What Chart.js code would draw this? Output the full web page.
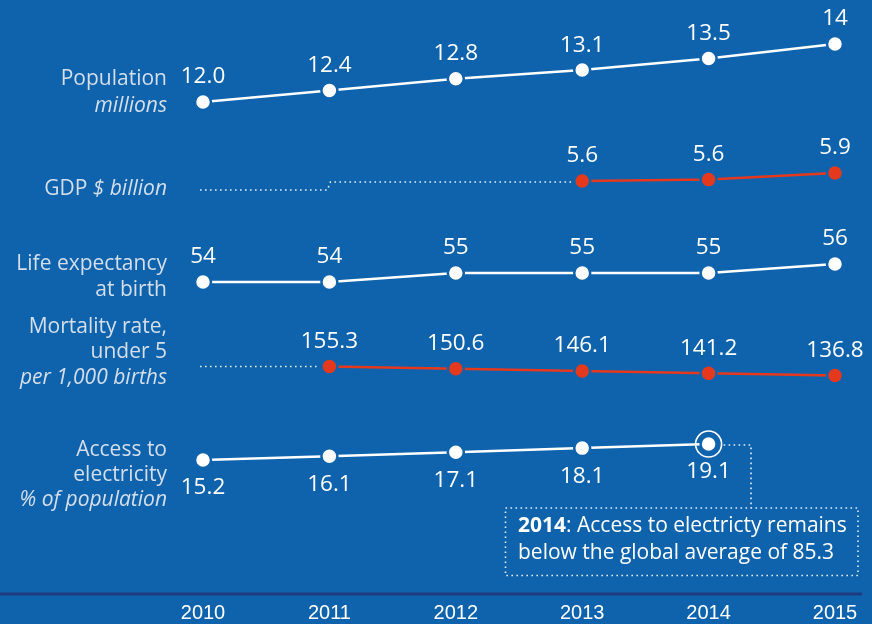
<!DOCTYPE html>
<html><head><meta charset="utf-8">
<script src="https://cdn.jsdelivr.net/npm/chart.js@4/dist/chart.umd.min.js"></script>
<style>html,body{margin:0;padding:0;background:#0F63AD;overflow:hidden}#wrap{width:872px;height:624px;position:relative}</style>
</head><body><div id="wrap"><canvas id="c"></canvas></div>
<script>
// ---- data ----
const years = ['2010', '2011', '2012', '2013', '2014', '2015'];
const population = [12.0, 12.4, 12.8, 13.1, 13.5, 14.0];
const populationLabels = ['12.0', '12.4', '12.8', '13.1', '13.5', '14'];
const gdp = [null, null, null, 5.57, 5.63, 5.92];
const lifeExpectancy = [54, 54, 55, 55, 55, 56];
const mortality = [null, 155.3, 150.6, 146.1, 141.2, 136.8];
const electricity = [15.2, 16.1, 17.1, 18.1, 19.1, null];
const rowTitles = [['Population'], ['GDP'], ['Life expectancy', 'at birth'], ['Mortality rate,', 'under 5'], ['Access to', 'electricity']];
const rowUnits = ['millions', '$ billion', '', 'per 1,000 births', '% of population'];
const noteYear = '2014';
const noteLines = [': Access to electricty remains', 'below the global average of 85.3'];

// ---- style ----
const BG = '#0F63AD';
const WHITE = '#FFFFFF';
const RED = '#E5391E';
const LABEL = '#D5DFEB';
const NAVY = '#1E3D7E';
const FONT = '"Open Sans", Lato, sans-serif';
const B = 593; // chart-area bottom (x axis height fixed to 31)

function band(v0, p0, k) { return { min: v0 - (B - p0) / k, max: v0 + p0 / k }; }
function fmt1(v) { return v == null ? '' : v.toFixed(1); }

function series(data, color, yAxisID, valueLabels, below, width) {
  return {
    data, yAxisID, valueLabels, labelBelow: below,
    borderColor: color, backgroundColor: color, borderWidth: width,
    pointRadius: 8, pointHoverRadius: 8, pointBorderWidth: 2.5,
    pointBackgroundColor: color, pointBorderColor: BG,
    tension: 0, clip: false, spanGaps: false
  };
}

const datasets = [
  series(population, WHITE, 'yPop', populationLabels, false, 2.5),
  series(gdp, RED, 'yGdp', gdp.map(fmt1), false, 2.5),
  series(lifeExpectancy, WHITE, 'yLife', lifeExpectancy.map(v => String(v)), false, 2.5),
  series(mortality, RED, 'yMort', mortality.map(fmt1), false, 2.5),
  series(electricity, WHITE, 'yElec', electricity.map(fmt1), true, 2.5)
];

const bgPlugin = {
  id: 'bg',
  beforeDraw(chart) {
    const ctx = chart.ctx;
    ctx.save();
    ctx.fillStyle = BG;
    ctx.fillRect(0, 0, chart.width, chart.height);
    ctx.fillStyle = NAVY;
    ctx.fillRect(0, chart.chartArea.bottom - 0.5, 862, 3);
    ctx.restore();
  }
};

function dotted(ctx, pts) {
  ctx.beginPath();
  ctx.moveTo(pts[0][0], pts[0][1]);
  for (let i = 1; i < pts.length; i++) ctx.lineTo(pts[i][0], pts[i][1]);
  ctx.stroke();
}

const decorPlugin = {
  id: 'decor',
  beforeDatasetsDraw(chart) {
    const ctx = chart.ctx;
    const xs = chart.scales.x;
    const x0 = xs.getPixelForValue(0), x1 = xs.getPixelForValue(1), x3 = xs.getPixelForValue(3);
    ctx.save();
    ctx.strokeStyle = 'rgba(255,255,255,0.9)';
    ctx.lineWidth = 1.6;
    ctx.setLineDash([1.6, 3.4]);
    // GDP missing data guide
    const g = chart.getDatasetMeta(1).data[3].y;
    dotted(ctx, [[x0 - 3, g + 9], [x1 - 2, g + 9], [x1 + 1, g + 1], [x3 - 10, g + 1]]);
    // Mortality missing data guide
    const m = chart.getDatasetMeta(3).data[1].y;
    dotted(ctx, [[x0 - 3, m], [x1 - 10, m]]);
    // electricity annotation connector and box
    const e = chart.getDatasetMeta(4).data[4];
    dotted(ctx, [[e.x + 15, e.y + 1], [751, e.y + 1], [751, 508]]);
    ctx.strokeRect(505.5, 508, 352.5, 67.5);
    ctx.restore();
  },
  afterDatasetsDraw(chart) {
    const ctx = chart.ctx;
    ctx.save();
    // highlight ring
    const e = chart.getDatasetMeta(4).data[4];
    ctx.strokeStyle = WHITE;
    ctx.lineWidth = 1.6;
    ctx.beginPath();
    ctx.arc(e.x, e.y, 13, 0, Math.PI * 2);
    ctx.stroke();
    // value labels
    ctx.fillStyle = WHITE;
    ctx.font = '22.5px ' + FONT;
    ctx.textAlign = 'center';
    ctx.textBaseline = 'middle';
    chart.data.datasets.forEach((ds, i) => {
      const meta = chart.getDatasetMeta(i);
      meta.data.forEach((pt, j) => {
        if (ds.data[j] == null) return;
        const y = ds.labelBelow ? pt.y + 28 : pt.y - 25;
        ctx.fillText(ds.valueLabels[j], pt.x, y);
      });
    });
    // row labels
    const rx = 167;
    const lineY = [[79, 106], [189], [264, 290], [327, 352, 378], [450, 475, 500]];
    ctx.textAlign = 'right';
    ctx.fillStyle = LABEL;
    const fs = '21px ';
    rowTitles.forEach((lines, r) => {
      const ys = lineY[r];
      if (r === 1) {
        ctx.font = 'italic ' + fs + FONT;
        const uw = ctx.measureText(rowUnits[r]).width;
        ctx.fillText(rowUnits[r], rx, ys[0]);
        ctx.font = fs + FONT;
        ctx.fillText(lines[0] + ' ', rx - uw, ys[0]);
        return;
      }
      ctx.font = fs + FONT;
      lines.forEach((t, k) => ctx.fillText(t, rx, ys[k]));
      if (rowUnits[r]) {
        ctx.font = 'italic ' + fs + FONT;
        ctx.fillText(rowUnits[r], rx, ys[lines.length]);
      }
    });
    // annotation text
    ctx.textAlign = 'left';
    ctx.fillStyle = WHITE;
    ctx.font = 'bold 21px ' + FONT;
    const bw = ctx.measureText(noteYear).width;
    ctx.fillText(noteYear, 518, 526);
    ctx.font = '21px ' + FONT;
    ctx.fillText(noteLines[0], 518 + bw, 526);
    ctx.fillText(noteLines[1], 518, 553);
    ctx.restore();
  }
};

new Chart(document.getElementById('c'), {
  type: 'line',
  data: { labels: years, datasets },
  options: {
    responsive: true,
    maintainAspectRatio: false,
    animation: false,
    events: [],
    layout: { autoPadding: false, padding: { left: 203, right: 37, top: 0, bottom: 0 } },
    plugins: { legend: { display: false }, tooltip: { enabled: false } },
    scales: {
      x: {
        type: 'category', offset: false,
        grid: { display: false, drawTicks: false, tickLength: 0 },
        border: { display: false },
        ticks: { color: WHITE, font: { family: '"Liberation Sans", Arial, sans-serif', size: 20, lineHeight: 1.2 }, padding: 8, autoSkip: false, maxRotation: 0 },
        afterFit(scale) { scale.height = 624 - B; }
      },
      yPop: Object.assign({ display: false }, band(12.0, 102, 29)),
      yGdp: Object.assign({ display: false }, band(5.57, 181, 23)),
      yLife: Object.assign({ display: false }, band(54, 282, 9)),
      yMort: Object.assign({ display: false }, band(155.3, 366.5, 0.486)),
      yElec: Object.assign({ display: false }, band(15.2, 460, 4.1))
    }
  },
  plugins: [bgPlugin, decorPlugin]
});
</script>
</body></html>
